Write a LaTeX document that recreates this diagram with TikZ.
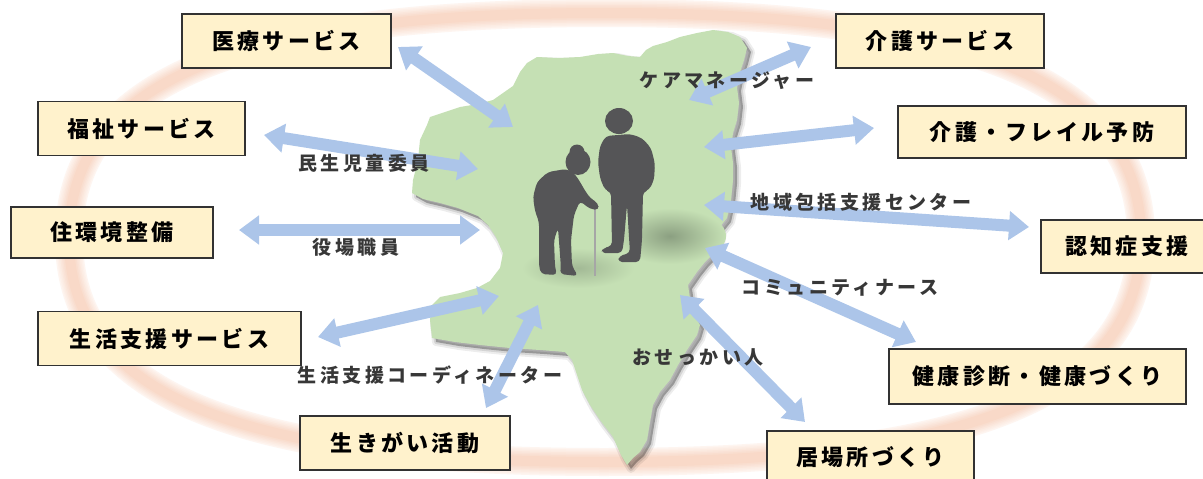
\documentclass[tikz,border=0pt]{standalone}
\usepackage{fontspec}
\newfontfamily\boxfont{Noto Sans CJK JP}[LetterSpace=15]
\newfontfamily\tagfont{Noto Sans CJK JP}[LetterSpace=18]
\usetikzlibrary{arrows.meta}

\definecolor{ringedge}{RGB}{254,245,240}
\definecolor{ringcore}{RGB}{248,214,196}
\definecolor{mapgreen}{RGB}{197,224,180}
\definecolor{groundshade}{RGB}{120,138,112}
\definecolor{arrowblue}{RGB}{172,197,233}
\definecolor{boxfill}{RGB}{255,242,204}
\definecolor{boxline}{RGB}{50,50,50}
\definecolor{figure}{RGB}{85,85,87}
\definecolor{tagtext}{RGB}{55,55,55}

% outline of the town map
\def\townoutline{(430,117) -- (445,112) -- (460,107) -- (478,104) -- (493,100) -- (503,93) -- (513,86) -- (520,72) -- (527,63) -- (537,57) -- (558,58) -- (580,57) -- (598,54) -- (613,53) -- (628,56) -- (640,57) -- (646,50) -- (653,46) -- (667,42) -- (680,37) -- (697,33) -- (713,30) -- (728,32) -- (740,37) -- (747,48) -- (744,60) -- (740,72) -- (737,87) -- (739,103) -- (737,120) -- (733,133) -- (731,147) -- (733,163) -- (733,180) -- (731,200) -- (727,218) -- (719,228) -- (717,240) -- (712,255) -- (705,262) -- (697,272) -- (688,285) -- (690,298) -- (693,312) -- (700,325) -- (697,335) -- (687,350) -- (678,365) -- (670,380) -- (660,392) -- (653,405) -- (650,422) -- (647,440) -- (640,452) -- (633,458) -- (627,465) -- (621,455) -- (613,437) -- (600,420) -- (590,405) -- (582,390) -- (577,375) -- (572,360) -- (565,352) -- (540,350) -- (510,348) -- (480,345) -- (455,342) -- (432,338) -- (430,320) -- (432,305) -- (440,297) -- (460,293) -- (477,288) -- (490,281) -- (500,268) -- (503,253) -- (496,237) -- (488,225) -- (478,216) -- (458,208) -- (440,203) -- (423,199) -- (412,193) -- (413,180) -- (418,160) -- (420,140) -- (427,125) -- cycle}

% the surrounding ring
\def\ringpath{(1141,238) .. controls (1141,82.75) and (974.5,13) .. (604,13)
  .. controls (233.5,13) and (69,82.75) .. (69,238)
  .. controls (69,393.25) and (233.5,462) .. (604,462)
  .. controls (974.5,462) and (1141,393.25) .. (1141,238) -- cycle}

\tikzset{
  svcbox/.style={draw=boxline, fill=boxfill, line width=1.8, inner sep=0pt,
    minimum height=54, text=black,
    font=\boxfont\bfseries\fontsize{22}{26}\selectfont},
  roletag/.style={inner sep=1pt, text=tagtext,
    font=\tagfont\bfseries\fontsize{19}{22}\selectfont},
  biarrow/.style={draw=arrowblue, line width=12,
    {Triangle[length=20pt,width=28pt]}-{Triangle[length=20pt,width=28pt]}},
}

\begin{document}
\begin{tikzpicture}[x=1pt,y=-1pt]
\useasboundingbox (0,0) rectangle (1203,479);
\clip (0,0) rectangle (1203,479);
\fill[white] (0,0) rectangle (1203,479);

% soft ring, built from narrowing strokes
\foreach \w/\p in {28/0,25/15,22/30,19/45,16/60,13/75,10/90}
  \draw[ringcore!\p!ringedge, line width=\w] \ringpath;

% map with a soft shadow
\begin{scope}[shift={(4,4)}]
  \draw[black, opacity=0.07, line width=8, line join=round] \townoutline;
  \draw[black, opacity=0.10, line width=4, line join=round] \townoutline;
  \fill[black, opacity=0.28] \townoutline;
\end{scope}
\fill[mapgreen] \townoutline;

% ground shadows under the couple
\shade[inner color=groundshade!75!mapgreen, outer color=mapgreen] (670,236) ellipse (56 and 28);
\shade[inner color=groundshade!45!mapgreen, outer color=mapgreen] (578,268) ellipse (56 and 20);

% the couple
\fill[figure] (619,121) ellipse (14 and 13);
\fill[figure, rounded corners=4]
  (606,136) -- (600,146) -- (598,162) -- (600,178) -- (605,190) -- (611,192)
  -- (612,246) -- (603,248) -- (601,253) -- (622,253) -- (624,240) -- (627,205)
  -- (630,253) -- (619,256) -- (618,262) -- (640,262) -- (642,240) -- (643,192)
  -- (649,190) -- (654,180) -- (655,164) -- (651,148) -- (642,138) -- (630,134) -- cycle;
\draw[gray!70, line width=1.6] (595,207) -- (595,276);
\fill[figure] (577,152) circle (7.5);
\fill[figure] (578,162) ellipse (12.5 and 13);
\fill[figure, rounded corners=4]
  (566,169) -- (548,172) -- (537,182) -- (533,197) -- (535,211) -- (539,222)
  -- (539,266) -- (541,274) -- (557,275) -- (555,267) -- (554,240) -- (558,228)
  -- (561,268) -- (560,274) -- (578,276) -- (572,266) -- (571,240) -- (574,215)
  -- (580,201) -- (590,209) -- (599,210) -- (598,203) -- (590,198) -- (584,189)
  -- (579,180) -- (573,172) -- cycle;

% service boxes
\node[svcbox, minimum width=209] (iryo)    at (286.5,41)  {医療サービス};
\node[svcbox, minimum width=207] (fukushi) at (141.5,128.5) {福祉サービス};
\node[svcbox, minimum width=202, minimum height=51] (jukankyo) at (112,232.5) {住環境整備};
\node[svcbox, minimum width=263] (seikatsu) at (169.5,338.5) {生活支援サービス};
\node[svcbox, minimum width=210] (ikigai)  at (405,443)   {生きがい活動};
\node[svcbox, minimum width=208] (kaigo)   at (940,41)    {介護サービス};
\node[svcbox, minimum width=288, minimum height=52] (frail) at (1042,132) {介護・フレイル予防};
\node[svcbox, minimum width=172, minimum height=53] (ninchi) at (1127,246.5) {認知症支援};
\node[svcbox, minimum width=297, minimum height=55] (kenko) at (1037.5,376.5) {健康診断・健康づくり};
\node[svcbox, minimum width=207, minimum height=52] (ibasho) at (870.5,457) {居場所づくり};

% arrow end points
\coordinate (iryoA) at (398,47);    \coordinate (iryoB) at (513,127);
\coordinate (fukuA) at (264,135);   \coordinate (fukuB) at (478,169);
\coordinate (juA)   at (239,230);   \coordinate (juB)   at (480,230);
\coordinate (seiA)  at (318,337);   \coordinate (seiB)  at (499,296);
\coordinate (ikiA)  at (486,408);   \coordinate (ikiB)  at (538,305);
\coordinate (kaiA)  at (689,100);   \coordinate (kaiB)  at (811,47);
\coordinate (frA)   at (704,147);   \coordinate (frB)   at (874,128);
\coordinate (niA)   at (704,205);   \coordinate (niB)   at (1029,227);
\coordinate (keA)   at (705,248);   \coordinate (keB)   at (916,342);
\coordinate (ibA)   at (680,295);   \coordinate (ibB)   at (805,422);

\draw[biarrow] (iryoA) -- (iryoB);
\draw[biarrow] (fukuA) -- (fukuB);
\draw[biarrow] (juA) -- (juB);
\draw[biarrow] (seiA) -- (seiB);
\draw[biarrow] (ikiA) -- (ikiB);
\draw[biarrow] (kaiA) -- (kaiB);
\draw[biarrow] (frA) -- (frB);
\draw[biarrow] (niA) -- (niB);
\draw[biarrow] (keA) -- (keB);
\draw[biarrow] (ibA) -- (ibB);

% role labels
\node[roletag] (minsei)  at (364,163) {民生児童委員};
\node[roletag] (yakuba)  at (356,247) {役場職員};
\node[roletag] (coord)   at (430,375) {生活支援コーディネーター};
\node[roletag] (caremgr) at (727,81)  {ケアマネージャー};
\node[roletag] (houkatsu) at (861,202) {地域包括支援センター};
\node[roletag] (nurse)   at (840,288) {コミュニティナース};
\node[roletag] (osekkai) at (698,357) {おせっかい人};
\end{tikzpicture}
\end{document}
